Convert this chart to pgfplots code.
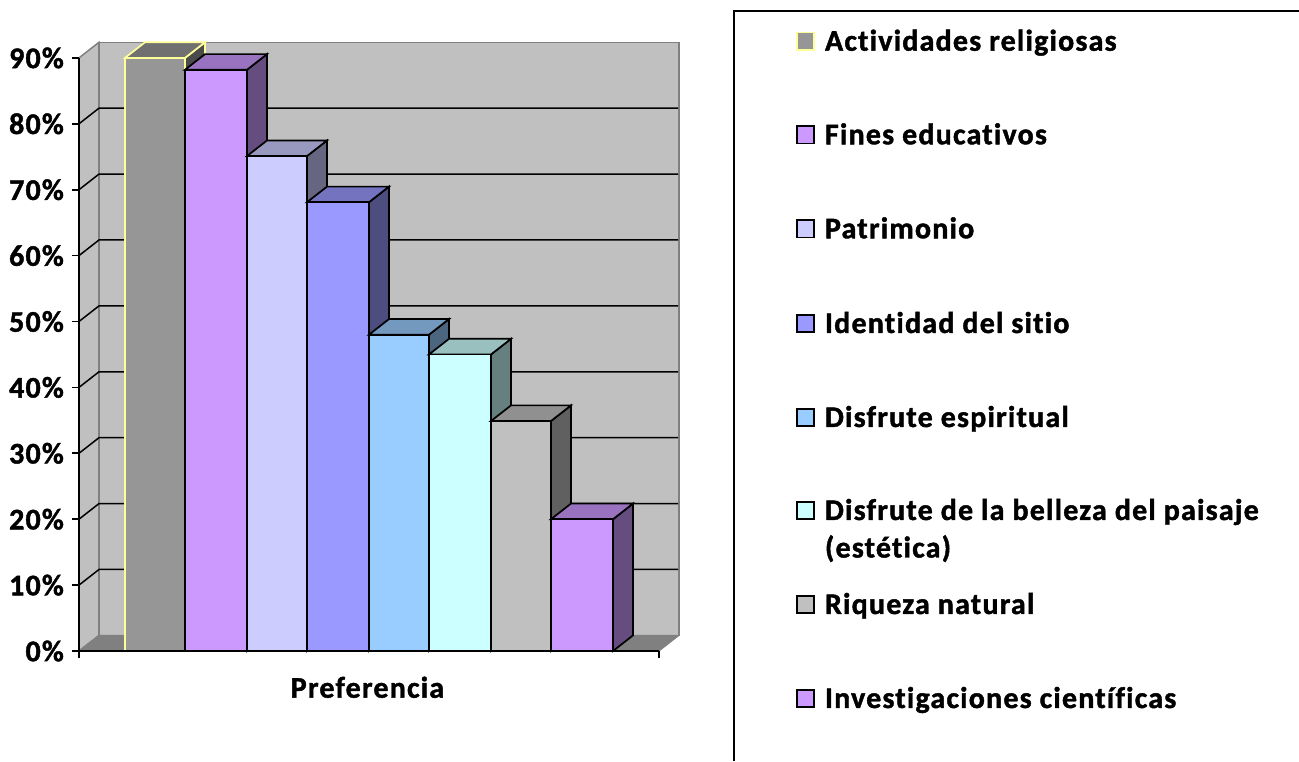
\documentclass[border=0pt]{standalone}
\usepackage{fontspec}
\setmainfont{Carlito}[LetterSpace=4, Ligatures=CommonOff, BoldFeatures={FakeBold=1.4}]
\usepackage{pgfplots}
\pgfplotsset{compat=1.18}
\definecolor{wall}{HTML}{C0C0C0}
\definecolor{wallb}{HTML}{808080}
\newcommand{\lt}[2]{\rule{0pt}{#1pt}#2}
\begin{document}
\begin{tikzpicture}
\useasboundingbox (-79pt,-110pt) rectangle (1220pt,651pt);
\begin{axis}[
  width=580pt, height=593.1pt, scale only axis,
  xmin=79, xmax=659, ymin=0, ymax=90,
  clip=false, axis on top,
  axis lines=left, axis line style={-, line width=1.7pt, black},
  tick style={line width=1.7pt, black}, tick align=outside, major tick length=7pt,
  minor tick num=0,
  xtick={79,659}, xticklabels={,},
  ytick={0,10,20,30,40,50,60,70,80,90},
  yticklabels={0\%,10\%,20\%,30\%,40\%,50\%,60\%,70\%,80\%,90\%},
  yticklabel style={font=\fontsize{30}{32}\selectfont\bfseries, inner sep=0pt, xshift=-8pt, anchor=east},
  xlabel={Preferencia},
  xlabel style={font=\fontsize{30}{32}\selectfont\bfseries, at={(0.5,0)}, anchor=base, yshift=-46.7pt, xshift=-1.5pt},
  legend style={at={(1.2362,1.0543)}, anchor=north west, draw=none, fill=none, inner sep=0pt, outer sep=0pt,
    row sep=0pt, /tikz/column sep=10pt, cells={anchor=base west},
    nodes={inner sep=0pt, outer sep=0pt, text depth=0pt, font=\fontsize{30}{37.5}\selectfont\bfseries}},
  legend image code/.code={\path[#1] (0.85pt,0.85pt) rectangle (18.15pt,18.15pt);},
]
% walls and floor
\addplot[forget plot, fill=wall, draw=wallb, line width=1.5pt] coordinates {(99,2.37)(679,2.37)(679,92.37)(99,92.37)} -- cycle;
\addplot[forget plot, fill=wall, draw=wallb, line width=1.5pt] coordinates {(79,0)(99,2.37)(99,92.37)(79,90)} -- cycle;
\addplot[forget plot, fill=wallb, draw=wallb, line width=1pt] coordinates {(79,0)(659,0)(679,2.37)(99,2.37)} -- cycle;
% gridlines
\foreach \v/\w in {10/12.37,20/22.37,30/32.37,40/42.37,50/52.37,60/62.37,70/72.37,80/82.37}{
  \addplot[forget plot, black, line width=1.5pt] coordinates {(79,\v)(99,\w)(678,\w)};
}
% bar 1
\addplot[forget plot, fill={rgb,255:red,75;green,75;blue,75}, draw={rgb,255:red,255;green,255;blue,153}, line width=1.7pt] coordinates {(185,0)(205,2.37)(205,92.37)(185,90)} -- cycle;
\addplot[forget plot, fill={rgb,255:red,112;green,112;blue,112}, draw={rgb,255:red,255;green,255;blue,153}, line width=1.7pt] coordinates {(125,90)(185,90)(205,92.37)(145,92.37)} -- cycle;
\addplot[fill={rgb,255:red,150;green,150;blue,150}, draw={rgb,255:red,255;green,255;blue,153}, line width=1.7pt] coordinates {(125,0)(185,0)(185,90)(125,90)} -- cycle;
\addlegendentry{\lt{25}{Actividades religiosas}}
% bar 2
\addplot[forget plot, fill={rgb,255:red,102;green,77;blue,128}, draw=black, line width=1.7pt] coordinates {(247,0)(267,2.37)(267,90.57)(247,88.2)} -- cycle;
\addplot[forget plot, fill={rgb,255:red,153;green,115;blue,191}, draw=black, line width=1.7pt] coordinates {(185,88.2)(247,88.2)(267,90.57)(205,90.57)} -- cycle;
\addplot[fill={rgb,255:red,204;green,153;blue,255}, draw=black, line width=1.7pt] coordinates {(185,0)(247,0)(247,88.2)(185,88.2)} -- cycle;
\addlegendentry{\lt{93.6}{Fines educativos}}
% bar 3
\addplot[forget plot, fill={rgb,255:red,102;green,102;blue,128}, draw=black, line width=1.7pt] coordinates {(307,0)(327,2.37)(327,77.47)(307,75.1)} -- cycle;
\addplot[forget plot, fill={rgb,255:red,153;green,153;blue,191}, draw=black, line width=1.7pt] coordinates {(247,75.1)(307,75.1)(327,77.47)(267,77.47)} -- cycle;
\addplot[fill={rgb,255:red,204;green,204;blue,255}, draw=black, line width=1.7pt] coordinates {(247,0)(307,0)(307,75.1)(247,75.1)} -- cycle;
\addlegendentry{\lt{94}{Patrimonio}}
% bar 4
\addplot[forget plot, fill={rgb,255:red,77;green,77;blue,128}, draw=black, line width=1.7pt] coordinates {(369,0)(389,2.37)(389,70.47)(369,68.1)} -- cycle;
\addplot[forget plot, fill={rgb,255:red,115;green,115;blue,191}, draw=black, line width=1.7pt] coordinates {(307,68.1)(369,68.1)(389,70.47)(327,70.47)} -- cycle;
\addplot[fill={rgb,255:red,153;green,153;blue,255}, draw=black, line width=1.7pt] coordinates {(307,0)(369,0)(369,68.1)(307,68.1)} -- cycle;
\addlegendentry{\lt{94.7}{Identidad del sitio}}
% bar 5
\addplot[forget plot, fill={rgb,255:red,77;green,102;blue,128}, draw=black, line width=1.7pt] coordinates {(429,0)(449,2.37)(449,50.37)(429,48)} -- cycle;
\addplot[forget plot, fill={rgb,255:red,115;green,153;blue,191}, draw=black, line width=1.7pt] coordinates {(369,48)(429,48)(449,50.37)(389,50.37)} -- cycle;
\addplot[fill={rgb,255:red,153;green,204;blue,255}, draw=black, line width=1.7pt] coordinates {(369,0)(429,0)(429,48)(369,48)} -- cycle;
\addlegendentry{\lt{94}{Disfrute espiritual}}
% bar 6
\addplot[forget plot, fill={rgb,255:red,102;green,128;blue,128}, draw=black, line width=1.7pt] coordinates {(491,0)(511,2.37)(511,47.37)(491,45)} -- cycle;
\addplot[forget plot, fill={rgb,255:red,153;green,191;blue,191}, draw=black, line width=1.7pt] coordinates {(429,45)(491,45)(511,47.37)(449,47.37)} -- cycle;
\addplot[fill={rgb,255:red,204;green,255;blue,255}, draw=black, line width=1.7pt] coordinates {(429,0)(491,0)(491,45)(429,45)} -- cycle;
\addlegendentry{\lt{93}{\parbox[t]{450pt}{\fontsize{30}{37.5}\selectfont\bfseries Disfrute de la belleza del paisaje\\(estética)}}}
% bar 7
\addplot[forget plot, fill={rgb,255:red,96;green,96;blue,96}, draw=black, line width=1.7pt] coordinates {(551,0)(571,2.37)(571,37.27)(551,34.9)} -- cycle;
\addplot[forget plot, fill={rgb,255:red,144;green,144;blue,144}, draw=black, line width=1.7pt] coordinates {(491,34.9)(551,34.9)(571,37.27)(511,37.27)} -- cycle;
\addplot[fill={rgb,255:red,192;green,192;blue,192}, draw=black, line width=1.7pt] coordinates {(491,0)(551,0)(551,34.9)(491,34.9)} -- cycle;
\addlegendentry{\lt{94}{Riqueza natural}}
% bar 8
\addplot[forget plot, fill={rgb,255:red,102;green,77;blue,128}, draw=black, line width=1.7pt] coordinates {(613,0)(633,2.37)(633,22.37)(613,20)} -- cycle;
\addplot[forget plot, fill={rgb,255:red,153;green,115;blue,191}, draw=black, line width=1.7pt] coordinates {(551,20)(613,20)(633,22.37)(571,22.37)} -- cycle;
\addplot[fill={rgb,255:red,204;green,153;blue,255}, draw=black, line width=1.7pt] coordinates {(551,0)(613,0)(613,20)(551,20)} -- cycle;
\addlegendentry{\lt{94}{Investigaciones científicas}}
% legend frame
\addplot[forget plot, black, line width=1.7pt] coordinates {(734,-16.7)(734,97.16)(1299,97.16)};
\end{axis}
\end{tikzpicture}
\end{document}
